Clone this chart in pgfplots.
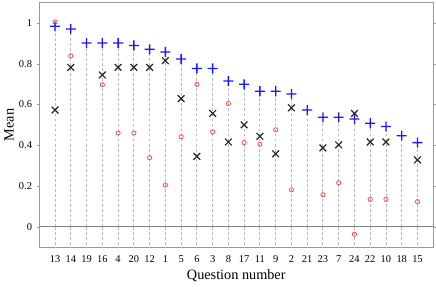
\documentclass[border=0pt]{standalone}
\usepackage{pgfplots}
\pgfplotsset{compat=1.18}
\usepackage{fontspec}
\setmainfont{Liberation Serif}
\definecolor{stem}{gray}{0.72}
\definecolor{axgray}{gray}{0.6}
\definecolor{zred}{rgb}{1,0.3,0.3}
\definecolor{pblue}{rgb}{0.1,0.1,1}
\pgfdeclareplotmark{fplus}{%
  \pgfpathrectangle{\pgfpoint{-\pgfplotmarksize}{-0.5pt}}{\pgfpoint{2\pgfplotmarksize}{1pt}}%
  \pgfpathrectangle{\pgfpoint{-0.5pt}{-\pgfplotmarksize}}{\pgfpoint{1pt}{2\pgfplotmarksize}}%
  \pgfusepathqfill}
\begin{document}
\begin{tikzpicture}
\begin{axis}[
  scale only axis,
  width=298.5pt, height=185.25pt,
  xmin=-1, xmax=24, ymin=-0.1, ymax=1.1,
  xtick={0,...,23},
  xticklabels={13,14,19,16,4,20,12,1,5,6,3,8,17,11,9,2,21,23,7,24,22,10,18,15},
  ytick={0,0.2,0.4,0.6,0.8,1},
  /pgf/number format/assume math mode=true,
  ticklabel style={font=\fontsize{7.9}{9}\selectfont},
  label style={font=\fontsize{10.8}{12}\selectfont},
  xlabel={Question number}, ylabel={Mean},
  axis line style={axgray},
  x tick style={draw=none},
  y tick style={axgray},
  major tick length=2pt,
  tick align=outside,
  xticklabel style={yshift=-1pt},
  xlabel style={yshift=1.5pt},
  ylabel style={yshift=-3pt},
  clip=false,
]
% stems
\addplot[ycomb, stem, dash pattern=on 2.2pt off 1.6pt, line width=0.7pt, mark=none] coordinates {
(0,1.005)(1,0.971)(2,0.902)(3,0.902)(4,0.902)(5,0.89)(6,0.871)(7,0.858)(8,0.823)(9,0.777)(10,0.777)(11,0.715)(12,0.699)(13,0.665)(14,0.665)(15,0.652)(16,0.573)(17,0.537)(18,0.537)(19,0.556)(20,0.508)(21,0.492)(22,0.447)(23,0.413)};
\addplot[ycomb, stem, dash pattern=on 2.2pt off 1.6pt, line width=0.7pt, mark=none] coordinates {
(0,-0.1)(1,-0.1)(2,-0.1)(3,-0.1)(4,-0.1)(5,-0.1)(6,-0.1)(7,-0.1)(8,-0.1)(9,-0.1)(10,-0.1)(11,-0.1)(12,-0.1)(13,-0.1)(14,-0.1)(15,-0.1)(16,-0.1)(17,-0.1)(18,-0.1)(19,-0.1)(20,-0.1)(21,-0.1)(22,-0.1)(23,-0.1)};
% zero line
\addplot[gray, line width=0.7pt, mark=none] coordinates {(-1,0)(24,0)};
% black x
\addplot[only marks, mark=x, draw=black!85, mark options={draw=black!85, solid}, mark size=3.6pt, line width=0.9pt] coordinates {
(0,0.573)(1,0.782)(3,0.745)(4,0.782)(5,0.782)(6,0.782)(7,0.815)(8,0.629)(9,0.345)(10,0.556)(11,0.416)(12,0.5)(13,0.444)(14,0.358)(15,0.584)(17,0.387)(18,0.402)(19,0.556)(20,0.416)(21,0.416)(23,0.328)};
% red circles
\addplot[only marks, mark=o, draw=zred, mark options={draw=zred, solid}, mark size=1.6pt, line width=0.6pt] coordinates {
(0,1.005)(1,0.839)(3,0.697)(4,0.46)(5,0.46)(6,0.339)(7,0.205)(8,0.442)(9,0.699)(10,0.466)(11,0.605)(12,0.413)(13,0.405)(14,0.476)(15,0.181)(17,0.157)(18,0.216)(19,-0.037)(20,0.134)(21,0.134)(23,0.123)};
% blue plus
\addplot[only marks, mark=fplus, color=pblue, mark options={fill=pblue, draw=none}, mark size=3.8pt] coordinates {
(0,0.984)(1,0.971)(2,0.902)(3,0.902)(4,0.902)(5,0.89)(6,0.871)(7,0.858)(8,0.823)(9,0.777)(10,0.777)(11,0.715)(12,0.699)(13,0.665)(14,0.665)(15,0.652)(16,0.573)(17,0.537)(18,0.537)(19,0.529)(20,0.508)(21,0.492)(22,0.447)(23,0.413)};
\end{axis}
\end{tikzpicture}
\end{document}
